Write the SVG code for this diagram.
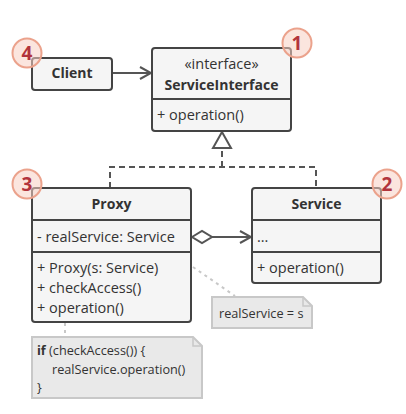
<svg xmlns="http://www.w3.org/2000/svg" width="406" height="414" viewBox="0 0 406 414">
<defs>
<style>
.box{fill:#f5f5f5;stroke:#444;stroke-width:2}
.div{stroke:#444;stroke-width:2}
.t{font-family:"Open Sans","Liberation Sans",sans-serif;font-size:14.5px;fill:#333}
.b{font-weight:bold;font-size:14px}
.c{text-anchor:middle}
.con{stroke:#555;stroke-width:2;fill:none}
.dash{stroke:#555;stroke-width:2;fill:none;stroke-dasharray:6,4}
.ndash{stroke:#c8c8c8;stroke-width:2;fill:none;stroke-dasharray:3,4}
.note{fill:#e9e9e9;stroke:#c8c8c8;stroke-width:2}
.badge circle{fill:#f7cfc2;fill-opacity:0.55;stroke:#eba28c;stroke-width:2}
.badge text{font-family:"Open Sans","Liberation Sans",sans-serif;font-size:19px;font-weight:bold;fill:#b2343c;text-anchor:middle}
.nt{font-family:"Open Sans","Liberation Sans",sans-serif;font-size:12.7px;fill:#333}
</style>
<marker id="open" markerWidth="14" markerHeight="14" refX="12" refY="7" orient="auto" markerUnits="userSpaceOnUse">
<path d="M1,1 L12,7 L1,13" fill="none" stroke="#555" stroke-width="2"/>
</marker>
</defs>
<rect width="406" height="414" fill="#fff"/>
<g id="connectors">
<line class="con" x1="112" y1="73" x2="151" y2="73" marker-end="url(#open)"/>
<polyline class="dash" points="110,188 110,167 316,167 316,188"/>
<line class="dash" x1="222" y1="167" x2="222" y2="148"/>
<polygon points="222,132 213,148 231,148" fill="#fff" stroke="#555" stroke-width="2"/>
<line class="con" x1="212" y1="237" x2="251" y2="237" marker-end="url(#open)"/>
<polygon points="192,237 202,231 212,237 202,243" fill="#fff" stroke="#555" stroke-width="2"/>
<line class="ndash" x1="193" y1="267" x2="235" y2="296"/>
<line class="ndash" x1="65" y1="323" x2="65" y2="337"/>
</g>
<g id="client">
<rect class="box" x="32" y="58" width="80" height="32" rx="3"/>
<text class="t b c" x="72" y="78">Client</text>
</g>
<g id="serviceinterface">
<rect class="box" x="152" y="48" width="139" height="83" rx="3"/>
<line class="div" x1="152" y1="99" x2="291" y2="99"/>
<text class="t c" x="221.5" y="69">«interface»</text>
<text class="t b c" x="221.5" y="90">ServiceInterface</text>
<text class="t" x="157" y="120">+ operation()</text>
</g>
<g id="proxy">
<rect class="box" x="32" y="188" width="159" height="134" rx="3"/>
<line class="div" x1="32" y1="220" x2="191" y2="220"/>
<line class="div" x1="32" y1="252" x2="191" y2="252"/>
<text class="t b c" x="111.5" y="209">Proxy</text>
<text class="t" x="37" y="242">- realService: Service</text>
<text class="t" x="37" y="273">+ Proxy(s: Service)</text>
<text class="t" x="37" y="293">+ checkAccess()</text>
<text class="t" x="37" y="313">+ operation()</text>
</g>
<g id="service">
<rect class="box" x="252" y="188" width="129" height="95" rx="3"/>
<line class="div" x1="252" y1="220" x2="381" y2="220"/>
<line class="div" x1="252" y1="252" x2="381" y2="252"/>
<text class="t b c" x="316.5" y="209">Service</text>
<text class="t" x="257" y="242">...</text>
<text class="t" x="257" y="273">+ operation()</text>
</g>
<g id="note-realservice">
<path class="note" d="M212,297 L303,297 L312,306 L312,328 L212,328 Z"/>
<path d="M303,297 L303,306 L312,306" fill="none" stroke="#c8c8c8" stroke-width="1.5"/>
<text class="nt" x="219" y="318">realService = s</text>
</g>
<g id="note-code">
<path class="note" d="M32,337 L193,337 L202,346 L202,398 L32,398 Z"/>
<path d="M193,337 L193,346 L202,346" fill="none" stroke="#c8c8c8" stroke-width="1.5"/>
<text class="nt" x="37" y="355"><tspan font-weight="bold">if</tspan> (checkAccess()) {</text>
<text class="nt" x="52" y="374">realService.operation()</text>
<text class="nt" x="37" y="392">}</text>
</g>
<g id="badge-1" class="badge"><circle cx="297" cy="43" r="14.5"/><text x="297" y="50">1</text></g>
<g id="badge-2" class="badge"><circle cx="387" cy="184" r="14.5"/><text x="387" y="191">2</text></g>
<g id="badge-3" class="badge"><circle cx="27" cy="184" r="14.5"/><text x="27" y="191">3</text></g>
<g id="badge-4" class="badge"><circle cx="27" cy="53" r="14.5"/><text x="27" y="60">4</text></g>
</svg>
